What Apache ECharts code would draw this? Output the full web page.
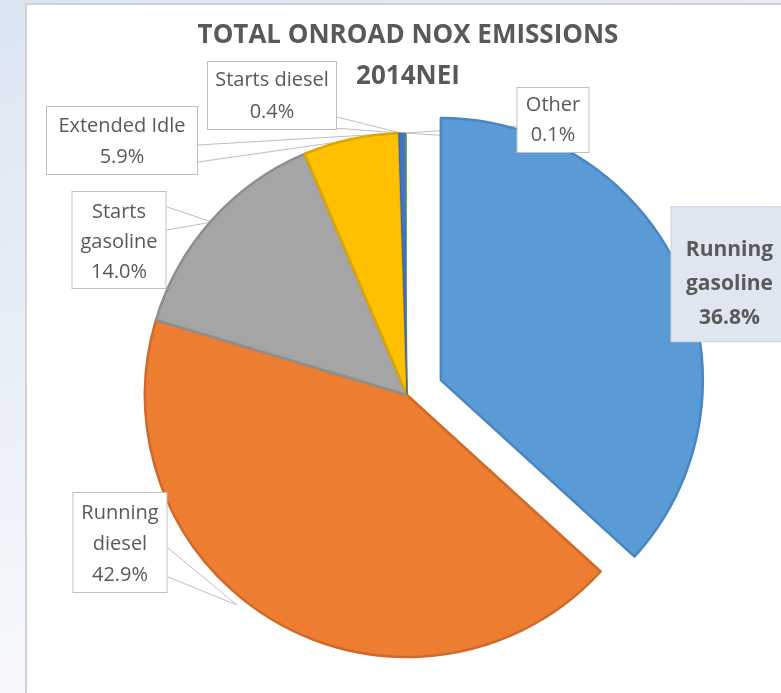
<!DOCTYPE html>
<html>
<head>
<meta charset="utf-8">
<script src="https://cdn.jsdelivr.net/npm/echarts@6.0.0/dist/echarts.min.js"></script>
<style>
html, body { margin: 0; padding: 0; }
#nox_chart { width: 781px; height: 693px; }
</style>
</head>
<body>
<div id="nox_chart"></div>
<script>
// data, clockwise from 12 o'clock
var categories = ['Running gasoline', 'Running diesel', 'Starts gasoline', 'Extended Idle', 'Starts diesel', 'Other'];
var shares = [36.8, 42.9, 14.0, 5.9, 0.4, 0.1];
// how the callouts break the names
var label_texts = ['Running\ngasoline', 'Running\ndiesel', 'Starts\ngasoline', 'Extended Idle', 'Starts diesel', 'Other'];

var slice_colors = ['#5b9bd5', '#ed7d31', '#a5a5a5', '#ffc000', '#4472c4', '#70ad47'];
var edge_colors = ['#4a87c2', '#d06a29', '#8e8e8e', '#dca500', '#3a62ad', '#70ad47'];
var edge_widths = [2.5, 2.5, 2.5, 2.5, 1, 0];

// callout boxes: centre x, top y, box width, padding [t, r, b, l], line height
// (the exploded slice keeps the pie's own label placement, see below)
var label_boxes = [
    { cx: 730, top: 209, w: 118, pad: [26, 8, 6, 8], lh: 34 },
    { cx: 120, top: 493, w: 95, pad: [5, 6, 1, 6], lh: 31 },
    { cx: 119, top: 192, w: 95, pad: [5, 6, 1, 6], lh: 30 },
    { cx: 122, top: 107, w: 152, pad: [4, 6, 1, 6], lh: 31 },
    { cx: 272, top: 62, w: 130, pad: [2, 4, 1, 4], lh: 32 },
    { cx: 553, top: 88, w: 73, pad: [2, 4, 2, 4], lh: 30 }
];
// callout pointers: box edge -> slice -> box edge
var pointers = [
    null,
    [[168, 548], [237, 605], [168, 577]],
    [[167, 207], [212, 222], [167, 230]],
    [[198, 145], [401, 133], [198, 162]],
    [[337, 117], [401, 133], [320, 127]],
    [[517, 126], [404, 133], [517, 140]]
];

function get_pie_data() {
    var data = [];
    for (var i = 0; i < categories.length; i++) {
        var box = label_boxes[i];
        var item = {
            name: categories[i],
            value: shares[i],
            itemStyle: {
                color: slice_colors[i],
                borderColor: edge_colors[i],
                borderWidth: edge_widths[i]
            },
            label: {
                width: box.w - box.pad[1] - box.pad[3] - 2,
                padding: box.pad,
                lineHeight: box.lh
            },
            labelLine: { show: !!pointers[i] }
        };
        if (i === 0) {
            // exploded slice: its label follows the selected state, so place it
            // through the pie's own outside layout; rich tokens keep the lines centred
            item.selected = true;
            item.select = { itemStyle: item.itemStyle };
            item.label.fontWeight = 'bold';
            item.label.fontSize = 21;
            item.label.distanceToLabelLine = -9;
            item.label.backgroundColor = '#dfe6f0';
            item.label.borderColor = '#c9d3e0';
            item.label.rich = {
                c: { align: 'center', lineHeight: box.lh, fontWeight: 'bold', fontSize: 21, color: '#595959', fontFamily: 'Open Sans' }
            };
            item.label.formatter = function (params) {
                var lines = (label_texts[params.dataIndex] + '\n' + params.value.toFixed(1) + '%').split('\n');
                return lines.map(function (s) { return '{c|' + s + '}'; }).join('\n');
            };
            item.labelLine.length = 0;
            item.labelLine.length2 = 0;
        }
        data.push(item);
    }
    return data;
}

function get_chart_option() {
    return {
        animation: false,
        backgroundColor: {
            type: 'linear', x: 0, y: 0, x2: 0.3, y2: 1,
            colorStops: [{ offset: 0, color: '#dbe5f2' }, { offset: 1, color: '#fafbfd' }]
        },
        graphic: [{
            type: 'rect',
            z: 0,
            shape: { x: 26, y: 4, width: 800, height: 720 },
            style: { fill: '#ffffff', stroke: '#d2d2d2', lineWidth: 2 }
        }],
        title: {
            text: 'TOTAL ONROAD NOX EMISSIONS\n2014NEI',
            left: 403,
            top: 10,
            textAlign: 'center',
            textStyle: {
                color: '#595959',
                fontFamily: 'Open Sans',
                fontWeight: 'bold',
                fontSize: 26,
                lineHeight: 41
            }
        },
        series: [{
            type: 'pie',
            center: [407, 395],
            radius: 262,
            startAngle: 90,
            clockwise: true,
            selectedMode: 'single',
            selectedOffset: 37,
            avoidLabelOverlap: false,
            emphasis: { disabled: true },
            label: {
                show: true,
                position: 'outside',
                formatter: function (params) {
                    return label_texts[params.dataIndex] + '\n' + params.value.toFixed(1) + '%';
                },
                color: '#595959',
                fontFamily: 'Open Sans',
                fontSize: 20,
                align: 'center',
                overflow: 'none',
                backgroundColor: '#ffffff',
                borderColor: '#bfbfbf',
                borderWidth: 1
            },
            labelLine: {
                show: true,
                lineStyle: { color: '#bfbfbf', width: 1 }
            },
            labelLayout: function (params) {
                var i = params.dataIndex;
                if (!pointers[i]) {
                    return {};
                }
                var box = label_boxes[i];
                return {
                    x: box.cx,
                    y: box.top,
                    align: 'center',
                    verticalAlign: 'top',
                    labelLinePoints: pointers[i]
                };
            },
            data: get_pie_data()
        }]
    };
}

var nox_chart = echarts.init(document.getElementById('nox_chart'));
nox_chart.setOption(get_chart_option());
</script>
</body>
</html>
